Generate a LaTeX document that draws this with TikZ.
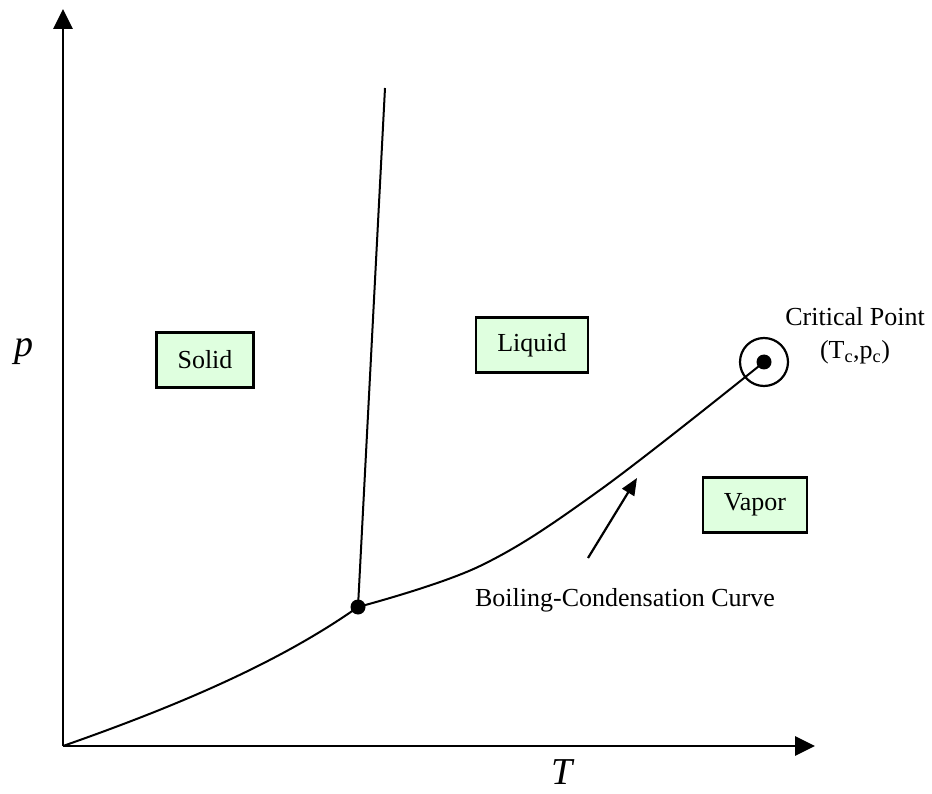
\documentclass[tikz,border=0pt]{standalone}
\usepackage{fontspec}
\setmainfont{Liberation Serif}
\usetikzlibrary{arrows.meta, positioning}
\definecolor{phasegreen}{RGB}{223,255,223}

\begin{document}
\begin{tikzpicture}[
    x=1pt, y=-1pt,
    phase/.style={draw, line width=2.2pt, fill=phasegreen, inner xsep=21pt, minimum height=55pt, font=\fontsize{26}{30}\selectfont},
    axis/.style={-{Triangle[length=20pt, width=19pt]}, line width=2.8pt},
    curve/.style={line width=2pt},
    dot/.style={circle, fill, inner sep=0pt, minimum size=15pt},
    note/.style={font=\fontsize{26}{33}\selectfont, align=center},
    axislabel/.style={font=\fontsize{38}{40}\selectfont\itshape}
]
    \useasboundingbox (0,0) rectangle (932,794);

    % Axes
    \coordinate (origin) at (63,746);
    \coordinate (ptip) at (63,9);
    \coordinate (Ttip) at (815,746);
    \draw[axis] (origin) -- (ptip);
    \draw[axis] (origin) -- (Ttip);
    \node[axislabel] (plabel) at (24,352) {p};
    \node[axislabel] (Tlabel) at (562,772) {T};

    % Special points
    \node[dot] (triple) at (358,607) {};
    \node[dot] (critical) at (764,362) {};
    \node[draw, circle, line width=2.2pt, inner sep=0pt, minimum size=48pt] (ring) at (critical) {};
    \coordinate (melttop) at (385,88);

    % Phase boundaries
    \draw[curve] (origin) .. controls (180,705) and (280,662) .. (triple.center);
    \draw[curve] (triple.center) -- (melttop);
    \draw[curve] plot[smooth, tension=0.6] coordinates {(triple.center) (480,566) (600,490) (critical.center)};

    % Phases
    \node[phase] (solid) at (205,360) {Solid};
    \node[phase] (liquid) at (532,345) {Liquid};
    \node[phase] (vapor) at (755,505) {Vapor};

    % Labels
    \node[note] (cplabel) at (855,336) {Critical Point\\(T\textsubscript{c},p\textsubscript{c})};
    \node[note] (bclabel) at (625,600) {Boiling-Condensation Curve};
    \coordinate (bctail) at (588,558);
    \coordinate (bchead) at (637,478);
    \draw[-{Triangle[length=17pt, width=14pt]}, line width=2.2pt] (bctail) -- (bchead);
\end{tikzpicture}
\end{document}
